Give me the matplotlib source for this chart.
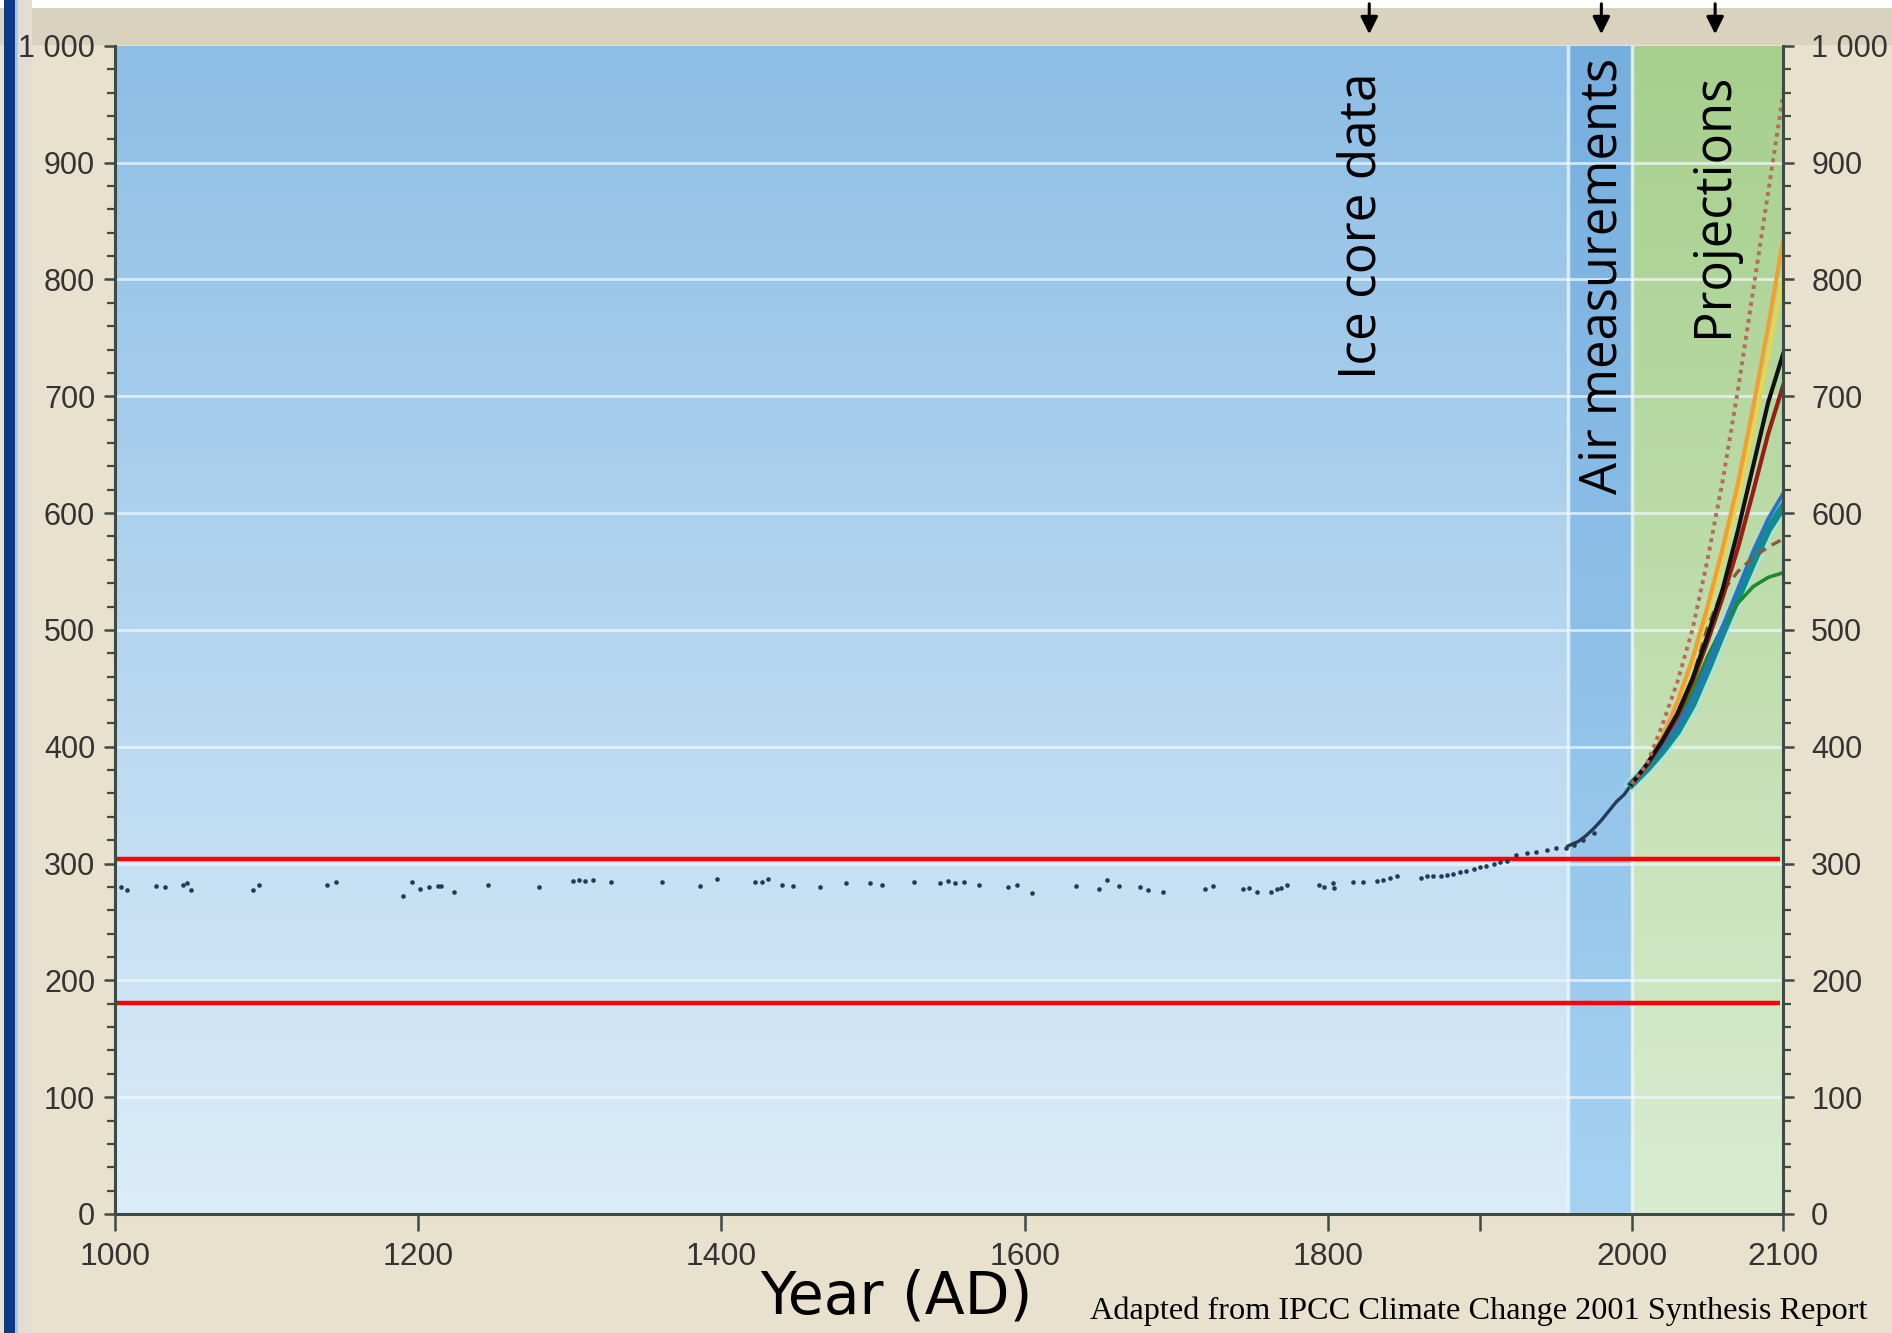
import numpy as np
import matplotlib
matplotlib.use("Agg")
import matplotlib.pyplot as plt
import matplotlib.ticker as ticker
from matplotlib.patches import Rectangle

# ---------------------------------------------------------------------------
# Data
# ---------------------------------------------------------------------------
ice_year = [1004, 1008, 1027, 1033, 1045, 1048, 1050, 1091, 1095, 1140, 1146,
            1190, 1196, 1201, 1207, 1213, 1215, 1224, 1246, 1280, 1302, 1306,
            1310, 1315, 1327, 1361, 1386, 1397, 1422, 1427, 1431, 1440, 1447,
            1465, 1482, 1498, 1506, 1527, 1544, 1549, 1554, 1560, 1570, 1589,
            1595, 1605, 1634, 1649, 1654, 1662, 1676, 1681, 1691, 1719, 1724,
            1744, 1748, 1753, 1762, 1766, 1769, 1773, 1794, 1797, 1803, 1804,
            1816, 1823, 1832, 1836, 1841, 1845, 1861, 1865, 1869, 1874, 1878,
            1882, 1887, 1891, 1896, 1900, 1904, 1909, 1913, 1918, 1924, 1931,
            1937, 1944, 1950, 1957, 1962, 1968, 1975]
ice_co2 = [280, 277, 281, 280, 282, 283, 277, 277, 282, 282, 284,
           272, 284, 278, 280, 281, 281, 276, 282, 280, 285, 286,
           285, 286, 284, 284, 281, 287, 284, 284, 287, 282, 281,
           280, 283, 283, 282, 284, 283, 285, 283, 284, 282, 280,
           282, 275, 281, 278, 286, 281, 280, 277, 276, 278, 281,
           278, 279, 276, 276, 278, 279, 282, 282, 280, 283, 279,
           284, 284, 285, 286, 288, 289, 288, 289, 289, 289, 290,
           291, 293, 294, 295, 297, 298, 300, 301, 302, 307, 309,
           310, 312, 313, 313, 316, 320, 326]

air_year = [1958, 1965, 1970, 1975, 1980, 1985, 1990, 1995, 2000]
air_co2 = [315, 319, 324, 330, 337, 345, 353, 359, 368]

proj_year = [2000, 2010, 2020, 2030, 2040, 2050, 2060, 2070, 2080, 2090, 2100]
proj_a1fi = [368, 385, 418, 455, 500, 560, 628, 705, 790, 875, 960]
proj_orange = [368, 384, 408, 438, 475, 520, 570, 625, 690, 760, 835]
proj_yellow = [368, 384, 407, 436, 471, 513, 560, 612, 670, 735, 805]
proj_black = [368, 385, 405, 428, 458, 495, 535, 585, 640, 695, 737]
proj_darkred = [368, 384, 404, 426, 455, 490, 528, 570, 618, 668, 710]
proj_dashed = [368, 384, 402, 423, 458, 503, 533, 550, 562, 571, 578]
proj_teal = [368, 381, 396, 413, 436, 466, 498, 528, 558, 586, 606]
proj_blue = [368, 383, 400, 418, 440, 470, 503, 535, 567, 595, 617]
proj_green = [368, 383, 400, 420, 447, 477, 503, 523, 537, 545, 549]

red_levels = [304, 181]
y_ticks = [0, 100, 200, 300, 400, 500, 600, 700, 800, 900, 1000]
x_ticks = [1000, 1200, 1400, 1600, 1800, 2000, 2100]
arrow_years = [1827, 1980, 2055]

# ---------------------------------------------------------------------------
# Figure / frame
# ---------------------------------------------------------------------------
BG = "#e8e1cd"
TOPBAND = "#d9d2bf"
TICK_FONT = ["Liberation Sans", "DejaVu Sans"]

fig = plt.figure(figsize=(18.92, 13.33), dpi=100, facecolor=BG)
ax = fig.add_axes([0.0606, 0.0893, 0.8820, 0.8763])

# slide decorations (behind the axes)
def frame_rect(x0, y0, w, h, color):
    fig.patches.append(Rectangle((x0 / 1892, 1 - (y0 + h) / 1333), w / 1892, h / 1333,
                                 transform=fig.transFigure, facecolor=color,
                                 edgecolor="none", zorder=-10))

frame_rect(0, 8, 1892, 37, TOPBAND)
frame_rect(0, 0, 1892, 8, "white")
frame_rect(4, 0, 11, 1333, "#0b3a88")
frame_rect(15, 0, 3, 1333, "#a9c8e8")
frame_rect(18, 0, 14, 1333, "#e6dcd6")

# ---------------------------------------------------------------------------
# Background gradients
# ---------------------------------------------------------------------------
def vgrad(top, bottom):
    t = np.linspace(0, 1, 256)[:, None]
    top = np.array(matplotlib.colors.to_rgb(top))
    bottom = np.array(matplotlib.colors.to_rgb(bottom))
    return (top * (1 - t) + bottom * t)[:, None, :].repeat(2, axis=1)

ax.imshow(vgrad("#8dbee6", "#dcedf9"), extent=[1000, 2100, 0, 1000],
          aspect="auto", zorder=0, interpolation="bilinear")
ax.imshow(vgrad("#76aede", "#a6d2f2"), extent=[1958, 2000, 0, 1000],
          aspect="auto", zorder=0.5, interpolation="bilinear")
ax.imshow(vgrad("#a6cf8c", "#d9ecd0"), extent=[2000, 2100, 0, 1000],
          aspect="auto", zorder=0.5, interpolation="bilinear")
for xb in [1958, 2000]:
    ax.axvline(xb, color="#eef6fb", lw=2.5, alpha=0.8, zorder=0.8)

for yv in y_ticks[1:-1]:
    ax.axhline(yv, color="#eef7fd", lw=2, alpha=0.75, zorder=0.9)

# ---------------------------------------------------------------------------
# Data layers
# ---------------------------------------------------------------------------
for lvl in red_levels:
    ax.hlines(lvl, 1000, 2098, color="#ff0000", lw=3.2, zorder=2)

ax.scatter(ice_year, ice_co2, s=11, color="#243a55", zorder=3, linewidths=0)
ax.plot(air_year, air_co2, color="#243a55", lw=2.4, zorder=3)

ax.plot(proj_year, proj_teal, color="#a8e4ee", lw=9, alpha=0.7, zorder=2.9)
ax.plot(proj_year, proj_teal, color="#0f8c8c", lw=5.5, zorder=3)
ax.plot(proj_year, proj_green, color="#1f8a2c", lw=2.6, zorder=3.1)
ax.plot(proj_year, proj_blue, color="#2a72c4", lw=2.8, zorder=3.2)
ax.plot(proj_year, proj_dashed, color="#8b5a3c", lw=2.4, ls=(0, (3, 2)), zorder=3.2)
ax.plot(proj_year, proj_yellow, color="#e8d54c", lw=2.8, zorder=3.2)
ax.plot(proj_year, proj_orange, color="#f0a033", lw=3, zorder=3.3)
ax.plot(proj_year, proj_darkred, color="#9a1c16", lw=3, zorder=3.4)
ax.plot(proj_year, proj_black, color="#111111", lw=3, zorder=3.5)
ax.plot(proj_year, proj_a1fi, color="#b86a55", lw=2.8, ls=(0, (1, 1.2)), zorder=3.6)

# ---------------------------------------------------------------------------
# Section labels and arrows
# ---------------------------------------------------------------------------
LABEL_FONT = ["Open Sans", "DejaVu Sans"]
ax.text(1822, 977, "Ice core data", rotation=90, ha="center", va="top",
        fontsize=37, family=LABEL_FONT, color="black", zorder=5)
ax.text(1981, 990, "Air measurements", rotation=90, ha="center", va="top",
        fontsize=36.5, family=LABEL_FONT, color="black", zorder=5)
ax.text(2054, 977, "Projections", rotation=90, ha="center", va="top",
        fontsize=36.5, family=LABEL_FONT, color="black", zorder=5)

for xa in arrow_years:
    ax.annotate("", xy=(xa, 1010), xytext=(xa, 1036), xycoords="data",
                annotation_clip=False, zorder=6,
                arrowprops=dict(arrowstyle="-|>", color="black", lw=2.2,
                                mutation_scale=26, shrinkA=0, shrinkB=0))

# ---------------------------------------------------------------------------
# Axes formatting
# ---------------------------------------------------------------------------
ax.set_xlim(1000, 2100)
ax.set_ylim(0, 1000)

fmt = ticker.FuncFormatter(lambda v, _: f"{int(v):,}".replace(",", " "))

ax.set_xticks(x_ticks + [1900])
ax.set_xticklabels([str(x) for x in x_ticks] + [""])
ax.set_yticks(y_ticks)
ax.yaxis.set_major_formatter(fmt)
ax.yaxis.set_minor_locator(ticker.MultipleLocator(20))

ax2 = ax.twinx()
ax2.set_ylim(0, 1000)
ax2.set_yticks(y_ticks)
ax2.yaxis.set_major_formatter(fmt)
ax2.yaxis.set_minor_locator(ticker.MultipleLocator(20))

SPINE = "#3d4a45"
for a in (ax, ax2):
    for s in a.spines.values():
        s.set_visible(False)
ax.spines["left"].set_visible(True)
ax.spines["bottom"].set_visible(True)
ax2.spines["right"].set_visible(True)
for sp in (ax.spines["left"], ax.spines["bottom"], ax2.spines["right"]):
    sp.set_color(SPINE)
    sp.set_linewidth(2.2)

ax.tick_params(axis="y", which="major", length=8, width=1.8, color=SPINE,
               labelsize=22, labelcolor="#333333", pad=6)
ax.tick_params(axis="y", which="minor", length=6, width=1.6, color=SPINE)
ax2.tick_params(axis="y", which="major", length=8, width=1.8, color=SPINE,
                labelsize=22, labelcolor="#333333", pad=12)
ax2.tick_params(axis="y", which="minor", length=6, width=1.6, color=SPINE)
ax.tick_params(axis="x", length=12, width=1.8, color=SPINE, labelsize=23,
               labelcolor="#333333", pad=8)
for lab in ax.get_xticklabels() + ax.get_yticklabels() + ax2.get_yticklabels():
    lab.set_family(TICK_FONT)

fig.text(0.474, 0.015, "Year (AD)", ha="center", va="baseline",
         fontsize=42, family=["DejaVu Sans"], color="black")
fig.text(0.987, 0.0105, "Adapted from IPCC Climate Change 2001 Synthesis Report",
         ha="right", va="baseline", fontsize=23.2,
         family=["Liberation Serif", "DejaVu Serif"], color="black")

fig.savefig("out.png", dpi=100, facecolor=BG)
